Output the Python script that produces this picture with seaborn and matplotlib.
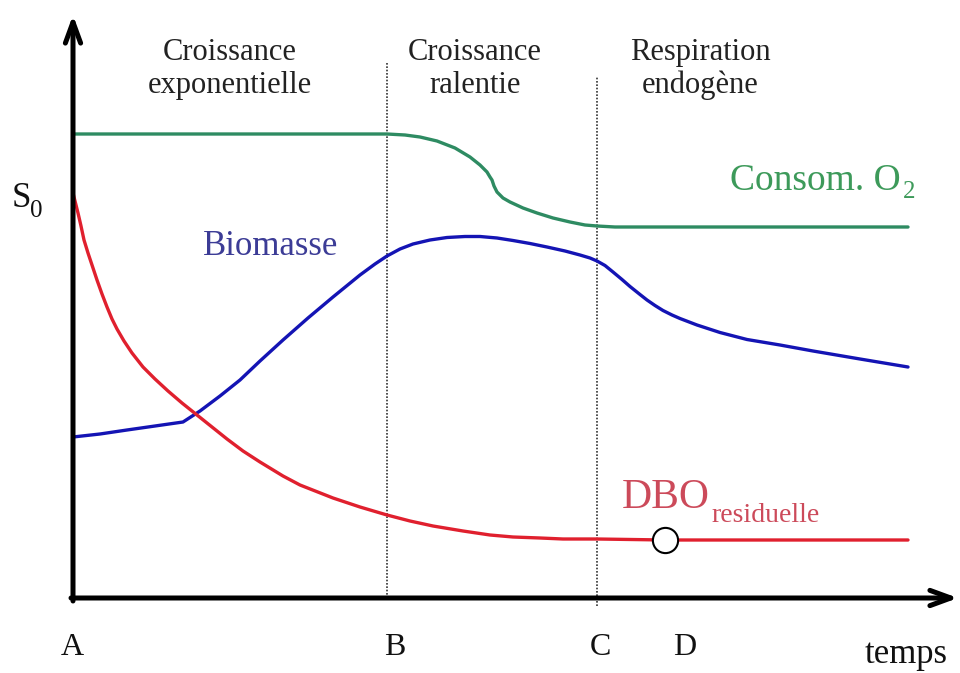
import matplotlib
matplotlib.use('Agg')
import matplotlib.pyplot as plt
import seaborn as sns

t_o2 = [0, 31.4, 33.2, 34.7, 36.4, 38.2, 39.7, 40.7, 41.4, 41.7, 41.9, 42.1, 42.4, 43.0,
        43.7, 45.0, 46.4, 48.0, 49.7, 51.2, 52.4, 54.2, 55.7, 83.5]
o2 = [46.4, 46.4, 46.3, 46.1, 45.7, 45.0, 44.1, 43.3, 42.6, 42.1, 41.8, 41.2, 40.6, 40.0,
      39.6, 39.0, 38.5, 38.0, 37.6, 37.3, 37.2, 37.1, 37.1, 37.1]

t_bio = [0, 2.7, 5.4, 8.2, 11.0, 12.7, 14.7, 16.7, 18.7, 21.0, 23.5, 26.0, 28.7, 30.2, 31.4,
         32.7, 34.0, 35.7, 37.4, 39.2, 40.7, 42.4, 44.0, 45.7, 47.4, 49.2, 50.7, 51.7, 52.4,
         53.2, 54.0, 54.9, 55.7, 56.7, 57.4, 58.2, 59.0, 59.9, 60.7, 62.4, 64.7, 67.4, 70.7,
         74.0, 78.7, 83.5]
bio = [16.1, 16.4, 16.8, 17.2, 17.6, 18.7, 20.2, 21.8, 23.7, 25.8, 28.0, 30.1, 32.3, 33.4, 34.2,
       34.9, 35.4, 35.8, 36.05, 36.15, 36.15, 36.0, 35.75, 35.45, 35.1, 34.7, 34.3, 34.0, 33.7,
       33.25, 32.6, 31.85, 31.15, 30.35, 29.8, 29.25, 28.75, 28.3, 27.95, 27.3, 26.55, 25.85, 25.3,
       24.7, 23.9, 23.1]

t_dbo = [0, 0.2, 0.5, 0.8, 1.1, 1.5, 1.9, 2.4, 2.9, 3.4, 3.9, 4.4, 5.1, 5.9, 7.0,
         8.2, 9.5, 10.9, 12.4, 13.9, 15.4, 17.0, 18.7, 21.0, 22.7, 26.0, 28.7, 31.4, 33.7, 36.0,
         39.0, 41.7, 44.0, 46.7, 49.0, 52.4, 59.2, 68.7, 83.5]
dbo = [40.5, 39.7, 38.5, 37.2, 35.8, 34.5, 33.3, 31.8, 30.4, 29.1, 27.9, 26.9, 25.7, 24.5, 23.1,
       21.9, 20.7, 19.5, 18.3, 17.1, 15.9, 14.7, 13.6, 12.2, 11.3, 10.0, 9.1, 8.3, 7.7, 7.2,
       6.7, 6.3, 6.1, 6.0, 5.9, 5.9, 5.8, 5.8, 5.8]

points = ['A', 'B', 'C', 'D']
t_points = [0, 31.4, 52.4, 59.2]
dbo_D = 5.8

phases = ['Croissance\nexponentielle', 'Croissance\nralentie', 'Respiration\nendogène']

sns.set_style('white')
plt.rcParams['font.family'] = ['Liberation Serif', 'DejaVu Serif']

fig = plt.figure(figsize=(9.6, 6.73), dpi=100)
ax = fig.add_axes([0, 0, 1, 1])
ax.set_xlim(-7.3, 88.7)
ax.set_ylim(-7.5, 59.8)
ax.axis('off')

# limites des phases
ax.vlines(t_points[1], 0, 53.5, colors='#333333', linestyles=(0, (1, 1)), lw=1.2)
ax.vlines(t_points[2], -0.8, 52.2, colors='#333333', linestyles=(0, (1, 1)), lw=1.2)

sns.lineplot(x=t_o2, y=o2, ax=ax, color='#2e8b62', linewidth=2.4, estimator=None, sort=False)
sns.lineplot(x=t_bio, y=bio, ax=ax, color='#1414b4', linewidth=2.4, estimator=None, sort=False)
sns.lineplot(x=t_dbo, y=dbo, ax=ax, color='#e0202e', linewidth=2.4, estimator=None, sort=False)
sns.scatterplot(x=[t_points[3]], y=[dbo_D], ax=ax, s=330, color='white', edgecolor='black',
                linewidth=1.5, zorder=5)

# axes avec flèches
arrow = dict(arrowstyle='->, head_length=1.5, head_width=0.55', lw=3.6, color='black',
             shrinkA=0, shrinkB=0)
ax.annotate('', xy=(0, 58.3), xytext=(0, -0.3), arrowprops=arrow, annotation_clip=False)
ax.annotate('', xy=(88.5, 0), xytext=(-0.2, 0), arrowprops=arrow, annotation_clip=False)

# titres des phases
for x, label in zip([15.7, 40.2, 62.7], phases):
    l1, l2 = label.split('\n')
    ax.text(x, 53.8, l1, ha='center', va='baseline', fontsize=22, color='#222222')
    ax.text(x, 50.5, l2, ha='center', va='baseline', fontsize=22, color='#222222')

t_o = ax.text(65.7, 40.8, 'Consom. O', fontsize=27, color='#3d9a5a', va='baseline')
ax.text(13.0, 34.3, 'Biomasse', fontsize=25, color='#3c3c96', va='baseline')
t_d = ax.text(54.9, 9.0, 'DBO', fontsize=30, color='#cc4a5a', va='baseline')
t_s = ax.text(-6.1, 39.1, 'S', fontsize=25, color='#111111', va='baseline')

for x, p in zip([-0.1, 32.2, 52.7, 61.2], points):
    ax.text(x, -5.7, p, ha='center', va='baseline', fontsize=23, color='#111111')
ax.text(79.2, -6.5, 'temps', fontsize=25, color='#111111', va='baseline')

# indices placés juste après le texte principal
fig.canvas.draw()
inv = ax.transData.inverted()


def right_end(txt):
    bb = txt.get_window_extent()
    return inv.transform((bb.x1, bb.y0))[0]


ax.text(right_end(t_o) + 0.2, 40.0, '2', fontsize=18, color='#3d9a5a', va='baseline')
ax.text(right_end(t_d) + 0.1, 7.6, 'residuelle', fontsize=20, color='#cc4a5a', va='baseline')
ax.text(right_end(t_s) - 0.1, 38.1, '0', fontsize=18, color='#111111', va='baseline')

fig.savefig('out.png', dpi=100)
